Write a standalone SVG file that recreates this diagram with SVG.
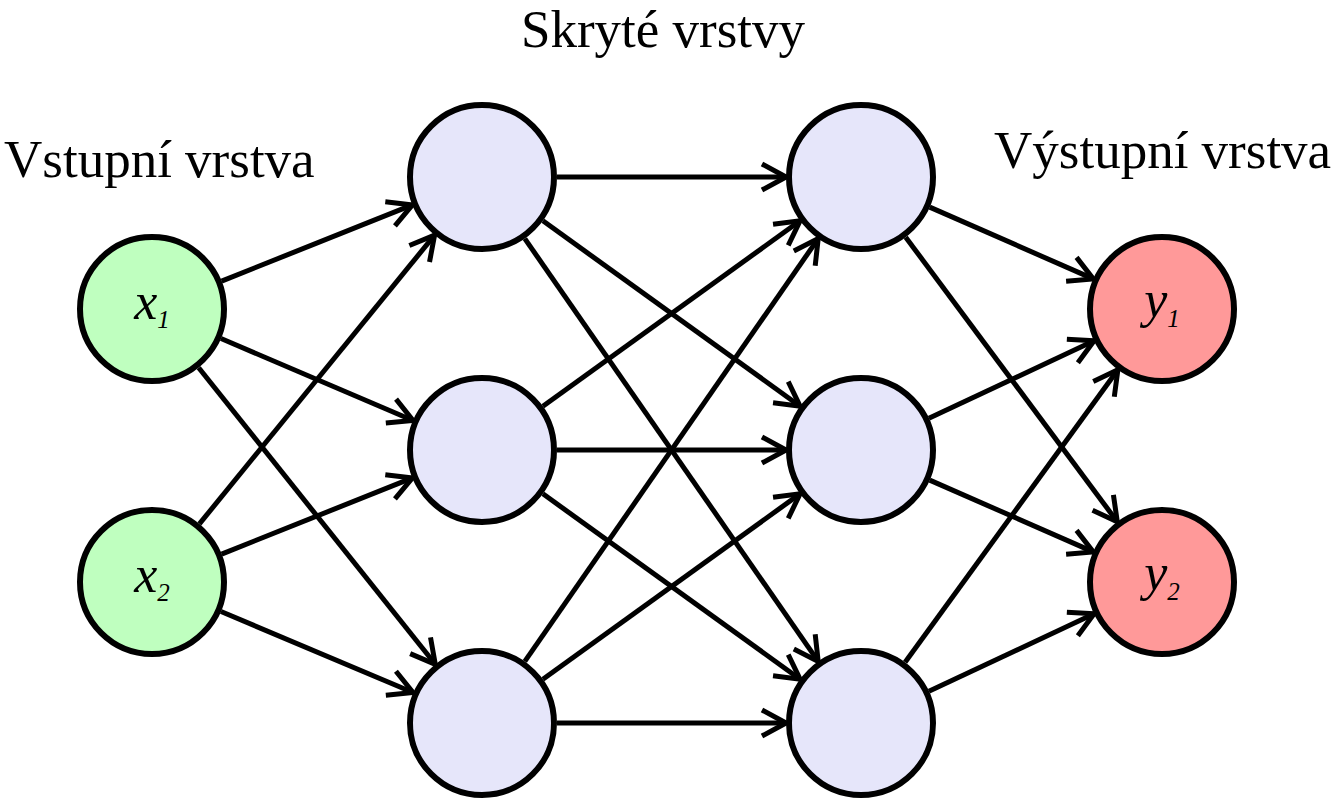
<svg xmlns="http://www.w3.org/2000/svg" width="1337" height="800" viewBox="0 0 1337 800">
<defs>
<style>
.title{font-family:"Liberation Serif","Times New Roman",serif;font-size:53px;fill:#000}
.lbl{font-family:"Liberation Serif","Times New Roman",serif;font-style:italic;font-size:52px;fill:#000}
.sub{font-size:25px}
.node{stroke:#000;stroke-width:6}
.in{fill:#BFFFBF}
.hid{fill:#E6E6FA}
.out{fill:#FF9999}
.edge{stroke:#000;stroke-width:5;fill:none;marker-end:url(#arr)}
</style>
<marker id="arr" markerUnits="userSpaceOnUse" viewBox="-30 -18 34 36" refX="0" refY="0" markerWidth="34" markerHeight="36" orient="auto">
<path d="M -24 -13 L 0 0 L -24 13" fill="none" stroke="#000" stroke-width="5" stroke-linejoin="miter"/>
</marker>
</defs>
<rect width="1337" height="800" fill="#fff"/>
<text class="title" x="4" y="177">Vstupní vrstva</text>
<text class="title" x="663" y="47" text-anchor="middle">Skryté vrstvy</text>
<text class="title" x="994" y="168">Výstupní vrstva</text>
<g id="connectors">
<line class="edge" x1="221.6" y1="281.1" x2="412.4" y2="204.9"/>
<line class="edge" x1="221.0" y1="338.5" x2="413.0" y2="420.5"/>
<line class="edge" x1="198.7" y1="367.7" x2="435.3" y2="664.3"/>
<line class="edge" x1="199.4" y1="523.9" x2="434.6" y2="235.1"/>
<line class="edge" x1="221.6" y1="554.1" x2="412.4" y2="477.9"/>
<line class="edge" x1="221.0" y1="611.5" x2="413.0" y2="692.5"/>
<line class="edge" x1="557" y1="177" x2="786" y2="177"/>
<line class="edge" x1="542.9" y1="220.8" x2="800.1" y2="406.2"/>
<line class="edge" x1="524.8" y1="238.6" x2="818.2" y2="661.4"/>
<line class="edge" x1="542.9" y1="406.2" x2="800.1" y2="220.8"/>
<line class="edge" x1="557" y1="450" x2="786" y2="450"/>
<line class="edge" x1="542.9" y1="493.8" x2="800.1" y2="679.2"/>
<line class="edge" x1="524.8" y1="661.4" x2="818.2" y2="238.6"/>
<line class="edge" x1="542.9" y1="679.2" x2="800.1" y2="493.8"/>
<line class="edge" x1="557" y1="723" x2="786" y2="723"/>
<line class="edge" x1="929.7" y1="207.1" x2="1093.3" y2="278.9"/>
<line class="edge" x1="905.7" y1="237.2" x2="1117.3" y2="521.8"/>
<line class="edge" x1="928.9" y1="418.2" x2="1094.1" y2="340.8"/>
<line class="edge" x1="929.7" y1="480.1" x2="1093.3" y2="551.9"/>
<line class="edge" x1="905.1" y1="662.3" x2="1117.9" y2="369.7"/>
<line class="edge" x1="928.9" y1="691.2" x2="1094.1" y2="613.8"/>
</g>
<g id="x1"><circle class="node in" cx="152" cy="309" r="72"/><text class="lbl" x="152" y="319" text-anchor="middle">x<tspan class="sub" dy="9">1</tspan></text></g>
<g id="x2"><circle class="node in" cx="152" cy="582" r="72"/><text class="lbl" x="152" y="592" text-anchor="middle">x<tspan class="sub" dy="9">2</tspan></text></g>
<g id="h11"><circle class="node hid" cx="482" cy="177" r="72"/></g>
<g id="h12"><circle class="node hid" cx="482" cy="450" r="72"/></g>
<g id="h13"><circle class="node hid" cx="482" cy="723" r="72"/></g>
<g id="h21"><circle class="node hid" cx="861" cy="177" r="72"/></g>
<g id="h22"><circle class="node hid" cx="861" cy="450" r="72"/></g>
<g id="h23"><circle class="node hid" cx="861" cy="723" r="72"/></g>
<g id="y1"><circle class="node out" cx="1162" cy="309" r="72"/><text class="lbl" x="1162" y="317" text-anchor="middle">y<tspan class="sub" dy="10">1</tspan></text></g>
<g id="y2"><circle class="node out" cx="1162" cy="582" r="72"/><text class="lbl" x="1162" y="590" text-anchor="middle">y<tspan class="sub" dy="10">2</tspan></text></g>
</svg>
